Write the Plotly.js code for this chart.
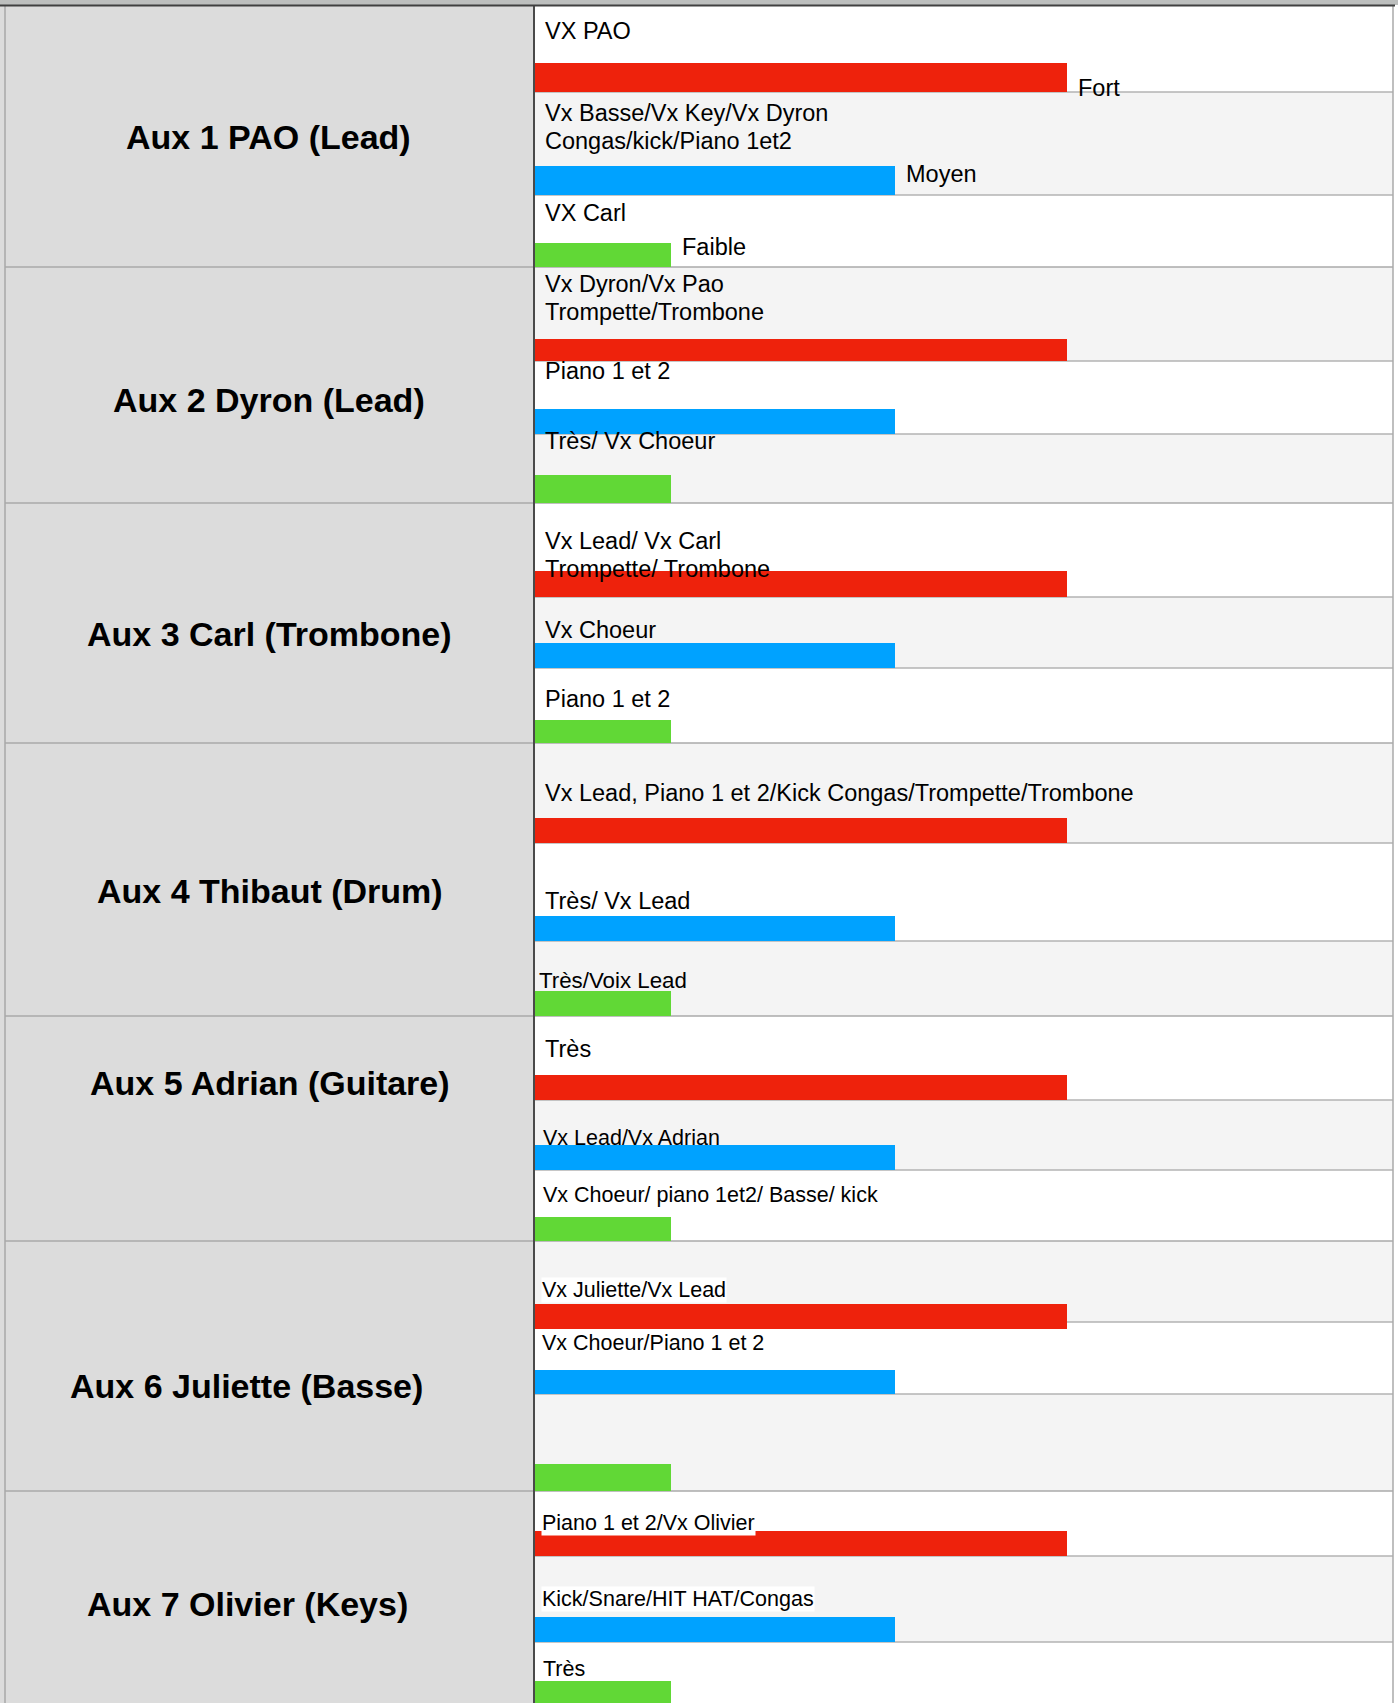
<!DOCTYPE html>
<html><head><meta charset="utf-8">
<script src="https://cdn.plot.ly/plotly-3.0.1.min.js"></script>
<style>html,body{margin:0;padding:0;background:#fff;overflow:hidden}</style>
</head><body><div id="chart" style="width:1398px;height:1703px"></div>
<script>
// ---------- DATA ----------
const groups = ["Aux 1 PAO (Lead)", "Aux 2 Dyron (Lead)", "Aux 3 Carl (Trombone)", "Aux 4 Thibaut (Drum)",
  "Aux 5 Adrian (Guitare)", "Aux 6 Juliette (Basse)", "Aux 7 Olivier (Keys)"];
const levels = ["Fort", "Moyen", "Faible"];
const levelValues = [62, 42, 16];
const fortItems = ["VX PAO", "Vx Dyron/Vx Pao<br>Trompette/Trombone", "Vx Lead/ Vx Carl<br>Trompette/ Trombone",
  "Vx Lead, Piano 1 et 2/Kick Congas/Trompette/Trombone", "Très", "Vx Juliette/Vx Lead", "Piano 1 et 2/Vx Olivier"];
const moyenItems = ["Vx Basse/Vx Key/Vx Dyron<br>Congas/kick/Piano 1et2", "Piano 1 et 2", "Vx Choeur", "Très/ Vx Lead",
  "Vx Lead/Vx Adrian", "Vx Choeur/Piano 1 et 2", "Kick/Snare/HIT HAT/Congas"];
const faibleItems = ["VX Carl", "Très/ Vx Choeur", "Piano 1 et 2", "Très/Voix Lead",
  "Vx Choeur/ piano 1et2/ Basse/ kick", "", "Très"];

// ---------- LAYOUT (pixel geometry, styles) ----------
const W = 1398, H = 1703;
const colSplit = 534, tableLeft = 5, tableRight = 1393;
const rowEdges = [[6,92,195,267],[267,361,434,503],[503,597,668,743],[743,843,941,1016],
  [1016,1100,1170,1241],[1241,1322,1394,1491],[1491,1556,1642,1710]];
const barBox = [
  [[63,92],[166,195],[243,267]],
  [[339,361],[409,434],[475,503]],
  [[571,597],[643,668],[720,743]],
  [[818,843],[916,941],[991,1016]],
  [[1075,1100],[1145,1170],[1217,1241]],
  [[1304,1329],[1370,1394],[1464,1491]],
  [[1531,1556],[1617,1642],[1681,1710]]
];
const textY = [[31,127,213],[298,371,441],[555,630,699],[793,901,980],[1049,1138,1195],[1290,1343,1440],[1523,1599,1669]];
const textX = [[543,543,543],[543,543,543],[543,543,543],[543,543,537],[543,541,541],[541,541,541],[541,541,541]];
const BIG = 23.5, SMALL = 21.5;
const textSize = [[BIG,BIG,BIG],[BIG,BIG,BIG],[BIG,BIG,BIG],[BIG,BIG,22.3],[BIG,SMALL,SMALL],[SMALL,SMALL,SMALL],[SMALL,SMALL,SMALL]];
const textBg = [[0,0,0],[0,0,0],[0,0,0],[0,0,0],[0,0,0],[1,1,0],[1,1,0]];
const lineGap = 28;
const labelY = [137,400,634,891,1083,1386,1604];
const labelX = [268,269,269.5,269.5,269.5,246.5,247];
const levelLabelY = [88,174,247];
const colors = ["#EE220C", "#00A2FF", "#61D836"];
const FONT = "Liberation Sans, Arial, Helvetica, sans-serif";

const itemsByLevel = [fortItems, moyenItems, faibleItems];

// ---------- TRACES ----------
const traces = levels.map((lv, k) => ({
  type: "bar", orientation: "h", name: lv,
  x: groups.map(() => levelValues[k]),
  y: groups.map((g, i) => (barBox[i][k][0] + barBox[i][k][1]) / 2),
  width: groups.map((g, i) => barBox[i][k][1] - barBox[i][k][0]),
  base: 0,
  marker: {color: colors[k], line: {width: 0}},
  hoverinfo: "skip", showlegend: false
}));

// ---------- SHAPES ----------
const shapes = [];
shapes.push({type:"rect", xref:"paper", yref:"y", x0:0, x1:1, y0:0, y1:5, fillcolor:"#bdbfbe", line:{width:0}, layer:"below"});
shapes.push({type:"rect", xref:"paper", yref:"y", x0:0, x1:colSplit/W, y0:5, y1:H, fillcolor:"#dcdcdc", line:{width:0}, layer:"below"});
let rIdx = 0;
rowEdges.forEach((e, i) => {
  for (let r = 0; r < 3; r++) {
    shapes.push({type:"rect", xref:"paper", yref:"y", x0:colSplit/W, x1:tableRight/W, y0:e[r], y1:e[r+1],
      fillcolor: (rIdx % 2 === 0) ? "#ffffff" : "#f4f4f4", line:{width:0}, layer:"below"});
    rIdx++;
  }
});
rowEdges.forEach((e, i) => {
  [1,2].forEach(r => shapes.push({type:"line", xref:"paper", yref:"y", x0:colSplit/W, x1:tableRight/W, y0:e[r], y1:e[r],
    line:{color:"#b3b3b3", width:1.5}, layer:"below"}));
  if (i > 0) shapes.push({type:"line", xref:"paper", yref:"y", x0:tableLeft/W, x1:tableRight/W, y0:e[0], y1:e[0],
    line:{color:"#aaaaaa", width:1.5}, layer:"below"});
});
shapes.push({type:"line", xref:"paper", yref:"y", x0:tableLeft/W, x1:tableLeft/W, y0:5, y1:H, line:{color:"#a8a8a8", width:1.5}, layer:"below"});
shapes.push({type:"line", xref:"paper", yref:"y", x0:tableRight/W, x1:tableRight/W, y0:5, y1:H, line:{color:"#aaaaaa", width:1.5}, layer:"below"});
shapes.push({type:"line", xref:"paper", yref:"y", x0:colSplit/W, x1:colSplit/W, y0:5, y1:H, line:{color:"#4a4a4a", width:2}, layer:"above"});
shapes.push({type:"line", xref:"paper", yref:"y", x0:0, x1:(tableRight+2)/W, y0:5.5, y1:5.5, line:{color:"#404040", width:2}, layer:"above"});

// ---------- ANNOTATIONS ----------
const annotations = [];
groups.forEach((g, i) => {
  annotations.push({xref:"paper", yref:"y", x:labelX[i]/W, y:labelY[i], text:"<b>" + g + "</b>", showarrow:false,
    xanchor:"center", yanchor:"middle", font:{family:FONT, size:34, color:"#000"}});
  itemsByLevel.forEach((arr, k) => {
    const txt = arr[i];
    if (!txt) return;
    const lines = txt.split("<br>");
    lines.forEach((ln, j) => {
      const yy = textY[i][k] + (j - (lines.length - 1) / 2) * lineGap;
      const a = {xref:"paper", yref:"y", x:textX[i][k]/W, y:yy, text:ln, showarrow:false,
        xanchor:"left", yanchor:"middle", font:{family:FONT, size:textSize[i][k], color:"#000"}};
      if (textBg[i][k]) { a.bgcolor = "#ffffff"; a.borderpad = 0; }
      annotations.push(a);
    });
  });
});
levels.forEach((lv, k) => {
  annotations.push({xref:"x", yref:"y", x:levelValues[k], y:levelLabelY[k], text:lv, showarrow:false,
    xanchor:"left", yanchor:"middle", xshift:9, font:{family:FONT, size:BIG, color:"#000"}});
});

const layout = {
  width: W, height: H, margin:{l:0, r:0, t:0, b:0, pad:0},
  paper_bgcolor:"#ffffff", plot_bgcolor:"rgba(0,0,0,0)",
  xaxis:{domain:[colSplit/W, tableRight/W], range:[0,100], showgrid:false, zeroline:false, showticklabels:false, showline:false, fixedrange:true},
  yaxis:{domain:[0,1], range:[H,0], showgrid:false, zeroline:false, showticklabels:false, showline:false, fixedrange:true},
  bargap:0, barmode:"overlay",
  shapes: shapes, annotations: annotations, showlegend:false
};
Plotly.newPlot("chart", traces, layout, {staticPlot:true, displayModeBar:false});
</script></body></html>
